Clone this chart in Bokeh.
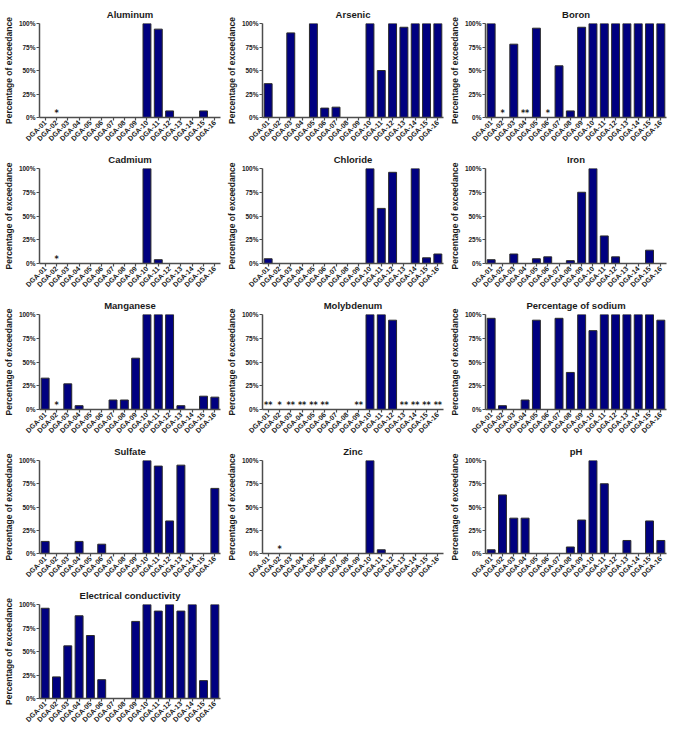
from bokeh.plotting import figure
from bokeh.layouts import column, row
from bokeh.models import ColumnDataSource, FactorRange, Range1d, FixedTicker, PrintfTickFormatter
from bokeh.core.properties import value
from bokeh.embed import file_html
from bokeh.resources import INLINE

sites = ["DGA-01", "DGA-02", "DGA-03", "DGA-04", "DGA-05", "DGA-06", "DGA-07", "DGA-08",
         "DGA-09", "DGA-10", "DGA-11", "DGA-12", "DGA-13", "DGA-14", "DGA-15", "DGA-16"]

y_ticks = [0, 25, 50, 75, 100]

aluminum   = [0, 0, 0, 0, 0, 0, 0, 0, 0, 100, 94, 7, 0, 0, 7, 0]
arsenic    = [36, 0, 90, 0, 100, 10, 11, 0, 0, 100, 50, 100, 96, 100, 100, 100]
boron      = [100, 0, 78, 0, 95, 0, 55, 7, 96, 100, 100, 100, 100, 100, 100, 100]
cadmium    = [0, 0, 0, 0, 0, 0, 0, 0, 0, 100, 4, 0, 0, 0, 0, 0]
chloride   = [5, 0, 0, 0, 0, 0, 0, 0, 0, 100, 58, 96, 0, 100, 6, 10]
iron       = [4, 0, 10, 0, 5, 7, 0, 3, 75, 100, 29, 7, 0, 0, 14, 0]
manganese  = [33, 0, 27, 4, 0, 0, 10, 10, 54, 100, 100, 100, 4, 0, 14, 13]
molybdenum = [0, 0, 0, 0, 0, 0, 0, 0, 0, 100, 100, 94, 0, 0, 0, 0]
sodium     = [96, 4, 0, 10, 94, 0, 96, 39, 100, 83, 100, 100, 100, 100, 100, 94]
sulfate    = [13, 0, 0, 13, 0, 10, 0, 0, 0, 100, 94, 35, 95, 0, 0, 70]
zinc       = [0, 0, 0, 0, 0, 0, 0, 0, 0, 100, 4, 0, 0, 0, 0, 0]
ph         = [4, 63, 38, 38, 0, 0, 0, 7, 36, 100, 75, 0, 14, 0, 35, 14]
conductivity = [96, 23, 56, 88, 67, 20, 0, 0, 82, 100, 93, 100, 93, 100, 19, 100]

# significance marks shown above zero bars
aluminum_marks   = ["", "*", "", "", "", "", "", "", "", "", "", "", "", "", "", ""]
boron_marks      = ["", "*", "", "**", "", "*", "", "", "", "", "", "", "", "", "", ""]
cadmium_marks    = ["", "*", "", "", "", "", "", "", "", "", "", "", "", "", "", ""]
manganese_marks  = ["", "*", "", "", "", "", "", "", "", "", "", "", "", "", "", ""]
molybdenum_marks = ["**", "*", "**", "**", "**", "**", "", "", "**", "", "", "", "**", "**", "**", "**"]
zinc_marks       = ["", "*", "", "", "", "", "", "", "", "", "", "", "", "", "", ""]
no_marks         = [""] * 16

panels = [
    ("Aluminum", aluminum, aluminum_marks),
    ("Arsenic", arsenic, no_marks),
    ("Boron", boron, boron_marks),
    ("Cadmium", cadmium, cadmium_marks),
    ("Chloride", chloride, no_marks),
    ("Iron", iron, no_marks),
    ("Manganese", manganese, manganese_marks),
    ("Molybdenum", molybdenum, molybdenum_marks),
    ("Percentage of sodium", sodium, no_marks),
    ("Sulfate", sulfate, no_marks),
    ("Zinc", zinc, zinc_marks),
    ("pH", ph, no_marks),
    ("Electrical conductivity", conductivity, no_marks),
]

FONT = "Liberation Sans"
AXIS_COLOR = "#4d4d4d"
row_heights = [147, 146, 146, 144, 145]
row_top = [23, 20, 20, 20, 20]


def make_panel(title, vals, marks, height, top):
    p = figure(x_range=FactorRange(factors=sites), y_range=Range1d(0, 100),
               width=223, height=height, output_backend="svg", toolbar_location=None,
               min_border_left=32, min_border_right=3, min_border_top=top,
               min_border_bottom=10)
    p.title.text = title
    p.title.align = "center"
    p.title.text_font = FONT
    p.title.text_font_size = "9.5px"
    p.title.text_font_style = "bold"
    p.title.text_color = "#1a1a1a"
    p.title.standoff = 8
    p.title.offset = 0

    src = ColumnDataSource(dict(x=sites, top=vals, marks=marks))
    p.vbar(x="x", top="top", width=0.7, source=src,
           fill_color="#000080", line_color="#2b2b2b", line_width=1)
    p.text(x="x", y=4, text="marks", source=src, text_align="center",
           text_baseline="middle", text_font=value("DejaVu Sans"), text_font_size="8px",
           text_font_style="bold", text_color="#1a1a1a")

    p.outline_line_color = None
    p.xgrid.grid_line_color = None
    p.ygrid.grid_line_color = None

    p.yaxis.ticker = FixedTicker(ticks=y_ticks)
    p.yaxis.formatter = PrintfTickFormatter(format="%d%%")
    p.yaxis.axis_label = "Percentage of exceedance"
    p.yaxis.axis_label_text_font = FONT
    p.yaxis.axis_label_text_font_size = "8.5px"
    p.yaxis.axis_label_text_font_style = "bold"
    p.yaxis.axis_label_text_color = "#1a1a1a"
    p.yaxis.axis_label_standoff = 2

    for ax in (p.xaxis, p.yaxis):
        ax.axis_line_color = AXIS_COLOR
        ax.axis_line_width = 1.5
        ax.major_tick_line_color = AXIS_COLOR
        ax.major_tick_line_width = 1.2
        ax.major_tick_out = 3
        ax.major_tick_in = 0
        ax.minor_tick_line_color = None
        ax.major_label_text_font = FONT
        ax.major_label_text_font_style = "bold"
        ax.major_label_text_color = "#1a1a1a"
        ax.major_label_standoff = 1

    p.yaxis.major_label_text_font_size = "6.5px"
    p.xaxis.major_label_text_font_size = "7px"
    p.xaxis.major_label_orientation = 0.785398
    return p


figs = []
for i, (t, v, m) in enumerate(panels):
    r = i // 3
    figs.append(make_panel(t, v, m, row_heights[r], row_top[r]))

rows = [row(*figs[k:k + 3], spacing=0) for k in range(0, len(figs), 3)]
layout = column(*rows, spacing=0)

with open("out.html", "w") as f:
    f.write(file_html(layout, INLINE))
